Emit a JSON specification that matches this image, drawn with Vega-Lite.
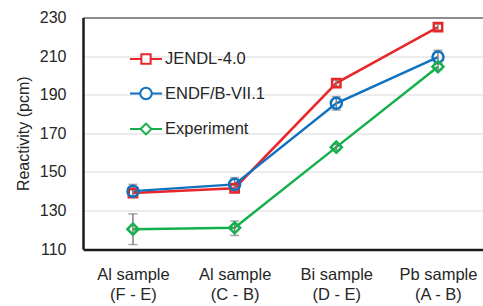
{
  "$schema": "https://vega.github.io/schema/vega-lite/v6.json",
  "width": 400,
  "height": 231.5,
  "autosize": {"type": "none"},
  "padding": {"left": 83, "top": 17.5, "right": 0, "bottom": 57},
  "background": "white",
  "config": {
    "view": {"stroke": null},
    "font": "Liberation Sans",
    "axis": {"labelColor": "#262626", "titleColor": "#262626", "labelFont": "Liberation Sans", "titleFont": "Liberation Sans"}
  },
  "data": {
    "values": [
      {"sample": "Al sample|(F - E)", "series": "JENDL-4.0", "value": 139, "lo": 137.5, "hi": 140.5},
      {"sample": "Al sample|(C - B)", "series": "JENDL-4.0", "value": 141.5, "lo": 140, "hi": 143},
      {"sample": "Bi sample|(D - E)", "series": "JENDL-4.0", "value": 196, "lo": 194.5, "hi": 197.5},
      {"sample": "Pb sample|(A - B)", "series": "JENDL-4.0", "value": 225, "lo": 223.5, "hi": 226.5},
      {"sample": "Al sample|(F - E)", "series": "ENDF/B-VII.1", "value": 140, "lo": 137, "hi": 143.5},
      {"sample": "Al sample|(C - B)", "series": "ENDF/B-VII.1", "value": 143.5, "lo": 140, "hi": 147},
      {"sample": "Bi sample|(D - E)", "series": "ENDF/B-VII.1", "value": 185.5, "lo": 182, "hi": 189},
      {"sample": "Pb sample|(A - B)", "series": "ENDF/B-VII.1", "value": 209.5, "lo": 206, "hi": 213},
      {"sample": "Al sample|(F - E)", "series": "Experiment", "value": 120.3, "lo": 112.3, "hi": 128.2},
      {"sample": "Al sample|(C - B)", "series": "Experiment", "value": 121, "lo": 117, "hi": 124.5},
      {"sample": "Bi sample|(D - E)", "series": "Experiment", "value": 162.8, "lo": 161.3, "hi": 164.3},
      {"sample": "Pb sample|(A - B)", "series": "Experiment", "value": 204.5, "lo": 203, "hi": 206}
    ]
  },
  "encoding": {
    "x": {
      "field": "sample", "type": "nominal", "sort": null,
      "scale": {"type": "point", "padding": 0.467, "align": 0.526},
      "axis": {
        "title": null, "labelAngle": 0, "ticks": false, "domain": false, "grid": false,
        "labelFontSize": 16.5, "labelPadding": 17, "labelLineHeight": 20,
        "labelExpr": "split(datum.label, '|')"
      }
    },
    "y": {
      "type": "quantitative",
      "scale": {"domain": [110, 230], "nice": false, "zero": false},
      "axis": {
        "title": "Reactivity (pcm)", "titleFontSize": 16, "titleFontWeight": "normal", "titlePadding": 8,
        "values": [110, 130, 150, 170, 190, 210, 230],
        "labelFontSize": 16, "labelPadding": 17, "ticks": false,
        "domain": true, "domainColor": "#1a1a1a", "domainWidth": 2.5,
        "grid": true,
        "gridColor": {"condition": {"test": "datum.value === 110 || datum.value === 230", "value": "#1a1a1a"}, "value": "#d9d9d9"},
        "gridWidth": {"condition": {"test": "datum.value === 110", "value": 2.5}, "value": 1}
      }
    },
    "color": {
      "field": "series", "type": "nominal", "sort": ["JENDL-4.0", "ENDF/B-VII.1", "Experiment"],
      "scale": {"domain": ["JENDL-4.0", "ENDF/B-VII.1", "Experiment"], "range": ["#e8262b", "#0f72c0", "#14b04c"]},
      "legend": {
        "title": null, "orient": "none", "legendX": 46, "legendY": 24.5,
        "symbolSize": 1024, "symbolStrokeWidth": 2, "labelFontSize": 16.5, "labelColor": "#262626",
        "labelOffset": 2, "rowPadding": 8.5,
        "encode": {
          "symbols": {
            "update": {
              "shape": {"signal": "datum.value === 'JENDL-4.0' ? 'M-1,0H-0.29M0.29,0H1M-0.29,-0.29H0.29V0.29H-0.29Z' : datum.value === 'ENDF/B-VII.1' ? 'M-1,0H-0.36M0.36,0H1M-0.36,0A0.36,0.36 0 1,1 0.36,0A0.36,0.36 0 1,1 -0.36,0Z' : 'M-1,0H-0.34M0.34,0H1M-0.34,0L0,-0.34L0.34,0L0,0.34Z'"},
              "fill": {"value": "white"},
              "strokeWidth": {"value": 2}
            }
          }
        }
      }
    }
  },
  "layer": [
    {
      "mark": {"type": "line", "strokeWidth": 2.5},
      "encoding": {"y": {"field": "value", "type": "quantitative"}}
    },
    {
      "mark": {"type": "rule", "color": "#808080", "strokeWidth": 1.5},
      "encoding": {
        "y": {"field": "lo", "type": "quantitative"},
        "y2": {"field": "hi"},
        "color": {"value": "#808080"}
      }
    },
    {
      "mark": {"type": "tick", "color": "#808080", "thickness": 1.5, "size": 9, "orient": "horizontal"},
      "encoding": {"y": {"field": "lo", "type": "quantitative"}, "color": {"value": "#808080"}}
    },
    {
      "mark": {"type": "tick", "color": "#808080", "thickness": 1.5, "size": 9, "orient": "horizontal"},
      "encoding": {"y": {"field": "hi", "type": "quantitative"}, "color": {"value": "#808080"}}
    },
    {
      "transform": [{"filter": "datum.series === 'JENDL-4.0'"}],
      "mark": {"type": "point", "shape": "square", "size": 70, "filled": false, "strokeWidth": 2.5, "opacity": 1},
      "encoding": {"y": {"field": "value", "type": "quantitative"}}
    },
    {
      "transform": [{"filter": "datum.series === 'ENDF/B-VII.1'"}],
      "mark": {"type": "point", "shape": "circle", "size": 121, "filled": false, "strokeWidth": 2.5, "opacity": 1},
      "encoding": {"y": {"field": "value", "type": "quantitative"}}
    },
    {
      "transform": [{"filter": "datum.series === 'Experiment'"}],
      "mark": {"type": "point", "shape": "diamond", "size": 121, "filled": false, "strokeWidth": 2.5, "opacity": 1},
      "encoding": {"y": {"field": "value", "type": "quantitative"}}
    }
  ]
}
